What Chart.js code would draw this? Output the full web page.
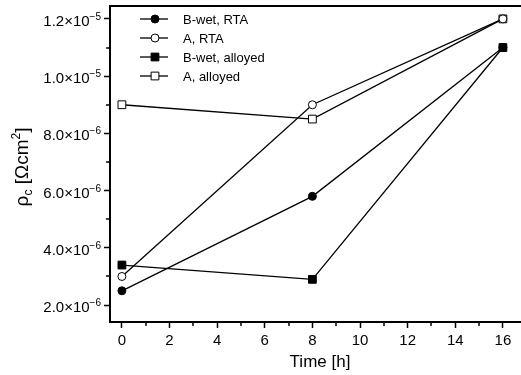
<!DOCTYPE html>
<html>
<head>
<meta charset="utf-8">
<script src="https://cdn.jsdelivr.net/npm/chart.js@4/dist/chart.umd.min.js"></script>
<style>
    html, body { margin: 0; padding: 0; background: #fff; }
    #wrap { width: 521px; height: 375px; }
</style>
</head>
<body>
<div id="wrap"><canvas id="rhoChart" width="521" height="375"></canvas></div>
<script>
// data (contact resistivity vs. time)
const timeHours = [0, 8, 16];
const bWetRta = [2.5e-6, 5.8e-6, 1.1e-5];
const aRta = [3.0e-6, 9.0e-6, 1.2e-5];
const bWetAlloyed = [3.4e-6, 2.9e-6, 1.1e-5];
const aAlloyed = [9.0e-6, 8.5e-6, 1.2e-5];

const seriesNames = ["B-wet, RTA", "A, RTA", "B-wet, alloyed", "A, alloyed"];

// axis ticks
const xTicks = [0, 2, 4, 6, 8, 10, 12, 14, 16];
const xMinorTicks = [1, 3, 5, 7, 9, 11, 13, 15];
const yTicks = [2e-6, 4e-6, 6e-6, 8e-6, 1.0e-5, 1.2e-5];
const yMinorTicks = [3e-6, 5e-6, 7e-6, 9e-6, 1.1e-5];
const yTickMantissa = ["2.0", "4.0", "6.0", "8.0", "1.0", "1.2"];
const yTickExponent = ["\u22126", "\u22126", "\u22126", "\u22126", "\u22125", "\u22125"];
const xTitle = "Time [h]";

const FONT = "'Liberation Sans', Arial, sans-serif";
Chart.defaults.font.family = FONT;
Chart.defaults.color = "#000";

function toPoints(values) {
    return values.map((v, i) => ({ x: timeHours[i], y: v }));
}

function makeSet(label, values, style, filled) {
    return {
        label,
        data: toPoints(values),
        borderColor: "#000",
        borderWidth: 1.3,
        pointStyle: style,
        pointRadius: style === "rect" ? 5.5 : 4,
        pointBackgroundColor: filled ? "#000" : "#fff",
        pointBorderColor: "#000",
        pointBorderWidth: 1,
        fill: false,
        tension: 0
    };
}

/* ---------------------------
   EXTRA DRAWING (frame, minor ticks, labels, legend)
---------------------------- */
function drawMarker(ctx, ds, x, y) {
    ctx.beginPath();
    if (ds.pointStyle === "rect") {
        const h = ds.pointRadius * Math.SQRT1_2;
        ctx.rect(x - h, y - h, 2 * h, 2 * h);
    } else {
        ctx.arc(x, y, ds.pointRadius, 0, Math.PI * 2);
    }
    ctx.fillStyle = ds.pointBackgroundColor;
    ctx.fill();
    ctx.lineWidth = 1;
    ctx.strokeStyle = "#000";
    ctx.stroke();
}

const decorPlugin = {
    id: "decor",
    afterDraw(chart) {
        const ctx = chart.ctx;
        const area = chart.chartArea;
        const xs = chart.scales.x;
        const ys = chart.scales.y;

        ctx.save();
        ctx.strokeStyle = "#000";

        // top frame line
        ctx.lineWidth = 2;
        ctx.beginPath();
        ctx.moveTo(area.left - 1, area.top);
        ctx.lineTo(area.right, area.top);
        ctx.stroke();

        // minor ticks
        ctx.lineWidth = 1.5;
        xMinorTicks.forEach(v => {
            const px = Math.round(xs.getPixelForValue(v));
            ctx.beginPath();
            ctx.moveTo(px, area.bottom);
            ctx.lineTo(px, area.bottom + 4);
            ctx.stroke();
        });
        yMinorTicks.forEach(v => {
            const py = Math.round(ys.getPixelForValue(v));
            ctx.beginPath();
            ctx.moveTo(area.left, py);
            ctx.lineTo(area.left - 4, py);
            ctx.stroke();
        });

        // y tick labels with superscript exponent
        ctx.fillStyle = "#000";
        ctx.textAlign = "left";
        ctx.textBaseline = "alphabetic";
        yTicks.forEach((v, i) => {
            const py = ys.getPixelForValue(v);
            ctx.font = `10px ${FONT}`;
            const expW = ctx.measureText(yTickExponent[i]).width;
            ctx.font = `15px ${FONT}`;
            const mainText = yTickMantissa[i] + "\u00d710";
            const mainW = ctx.measureText(mainText).width;
            const right = area.left - 9;
            ctx.fillText(mainText, right - expW - mainW, py + 7);
            ctx.font = `10px ${FONT}`;
            ctx.fillText(yTickExponent[i], right - expW, py + 1);
        });

        // x axis title
        ctx.font = `17px ${FONT}`;
        ctx.textAlign = "center";
        ctx.fillText(xTitle, 320, 367);
        ctx.textAlign = "left";

        // y axis title: rho_c [Ohm cm^2]
        const parts = [
            { t: "\u03c1", size: 19, dy: 0 },
            { t: "c", size: 12, dy: 4 },
            { t: " [\u03a9cm", size: 19, dy: 0 },
            { t: "2", size: 12, dy: -8 },
            { t: "]", size: 19, dy: 0 }
        ];
        let total = 0;
        parts.forEach(p => {
            ctx.font = `${p.size}px ${FONT}`;
            p.w = ctx.measureText(p.t).width;
            total += p.w;
        });
        ctx.save();
        ctx.translate(21, 167);
        ctx.rotate(-Math.PI / 2);
        let cx = -total / 2;
        parts.forEach(p => {
            ctx.font = `${p.size}px ${FONT}`;
            ctx.fillText(p.t, cx, 7 + p.dy);
            cx += p.w;
        });
        ctx.restore();

        // legend
        const rows = [19, 38, 57, 76];
        chart.data.datasets.forEach((ds, i) => {
            const y = rows[i];
            ctx.lineWidth = 1.3;
            ctx.strokeStyle = "#000";
            ctx.beginPath();
            ctx.moveTo(140, y);
            ctx.lineTo(168, y);
            ctx.stroke();
            drawMarker(ctx, ds, 155, y);
            ctx.fillStyle = "#000";
            ctx.font = `13px ${FONT}`;
            ctx.textBaseline = "middle";
            ctx.fillText(ds.label, 183, y + 1);
            ctx.textBaseline = "alphabetic";
        });

        ctx.restore();
    }
};

/* ---------------------------
   CHART
---------------------------- */
const gridOpts = {
    display: true,
    drawOnChartArea: false,
    drawTicks: true,
    tickLength: 6,
    tickWidth: 1.5,
    tickColor: "#000"
};

new Chart(document.getElementById("rhoChart"), {
    type: "line",
    data: {
        datasets: [
            makeSet(seriesNames[0], bWetRta, "circle", true),
            makeSet(seriesNames[1], aRta, "circle", false),
            makeSet(seriesNames[2], bWetAlloyed, "rect", true),
            makeSet(seriesNames[3], aAlloyed, "rect", false)
        ]
    },
    options: {
        responsive: false,
        animation: false,
        devicePixelRatio: 1,
        layout: { autoPadding: false, padding: { top: 6, left: 0, right: 0, bottom: 0 } },
        plugins: {
            legend: { display: false },
            tooltip: { enabled: false }
        },
        scales: {
            x: {
                type: "linear",
                min: -0.5,
                max: 16.76,
                afterBuildTicks: s => { s.ticks = xTicks.map(v => ({ value: v })); },
                afterFit: s => {
                    s.height = 53;
                    s.paddingLeft = 0;
                    s.paddingRight = 0;
                },
                grid: gridOpts,
                border: { display: true, color: "#000", width: 2 },
                ticks: { color: "#000", font: { size: 15 }, padding: 4, maxRotation: 0, autoSkip: false }
            },
            y: {
                type: "linear",
                min: 1.41e-6,
                max: 1.245e-5,
                afterBuildTicks: s => { s.ticks = yTicks.map(v => ({ value: v })); },
                afterFit: s => { s.width = 110; },
                grid: gridOpts,
                border: { display: true, color: "#000", width: 2 },
                ticks: { display: false }
            }
        }
    },
    plugins: [decorPlugin]
});
</script>
</body>
</html>
